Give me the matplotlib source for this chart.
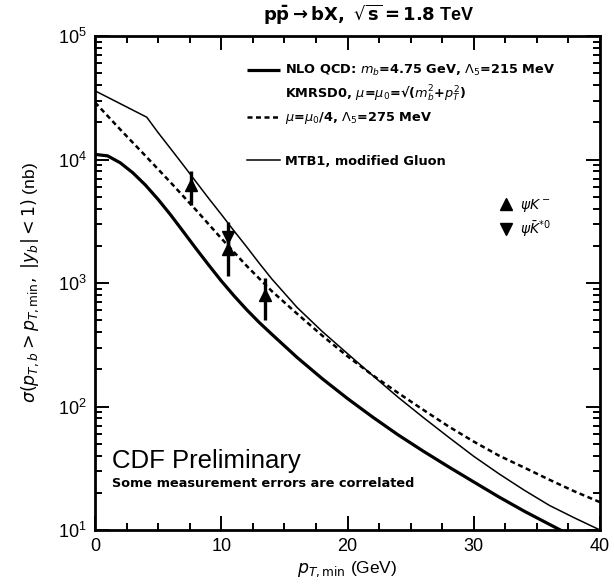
import matplotlib
matplotlib.use("Agg")
import matplotlib.pyplot as plt
from matplotlib.ticker import LogLocator, MultipleLocator, NullFormatter
import numpy as np

plt.rcParams['font.family'] = ['Liberation Sans', 'DejaVu Sans']
plt.rcParams['mathtext.fontset'] = 'dejavusans'

# NLO QCD central prediction (KMRSD0, mu = mu0)
pt_nlo = [0, 1, 2, 3, 4, 5, 6, 7, 8, 9, 10, 11, 12, 13, 14, 16, 18, 20, 22, 24, 26, 28, 30, 32, 34, 36, 38, 40]
xs_nlo = [1.1e4, 1.07e4, 9.4e3, 7.8e3, 6.2e3, 4.75e3, 3.55e3, 2.6e3, 1.9e3, 1.4e3, 1.04e3, 790, 610, 480,
          385, 250, 168, 116, 82, 59, 43.5, 32.5, 24.5, 18.5, 14.2, 11.1, 8.7, 6.9]

# mu = mu0/4, Lambda5 = 275 MeV
pt_low = [0, 2, 4, 6, 8, 10, 12, 14, 16, 18, 20, 22, 24, 26, 28, 30, 32, 34, 36, 38, 40]
xs_low = [2.9e4, 1.75e4, 1.07e4, 6.5e3, 3.9e3, 2.3e3, 1.38e3, 860, 565, 375, 255, 179, 129, 94, 69, 52,
          40, 32, 25.5, 20.5, 16.8]

# MTB1, modified gluon
pt_mtb = [0, 4.1, 5, 6, 7, 8, 9, 10, 11, 12, 13, 14, 16, 18, 20, 22, 24, 26, 28, 30, 32, 34, 36, 38, 40]
xs_mtb = [3.6e4, 2.2e4, 1.65e4, 1.22e4, 9.0e3, 6.6e3, 4.85e3, 3.6e3, 2.65e3, 1.97e3, 1.45e3, 1.08e3, 635,
          405, 268, 178, 119, 81.5, 56.5, 39.5, 28.5, 21, 15.8, 12.5, 10]

# CDF measurements
pt_km = [7.6, 10.5, 13.5]
xs_km = [6.2e3, 1.9e3, 800]
err_km_lo = [1.9e3, 0.75e3, 300]
err_km_hi = [1.9e3, 0.65e3, 300]

pt_kst = [10.5]
xs_kst = [2.35e3]
err_kst_lo = [0.65e3]
err_kst_hi = [0.75e3]

fig = plt.figure(figsize=(6.14, 5.85), dpi=100)
ax = fig.add_axes([95 / 614, 55 / 585, 505 / 614, 494 / 585])

l_nlo, = ax.plot(pt_nlo, xs_nlo, color='black', lw=2.3, solid_capstyle='butt')
l_low, = ax.plot(pt_low, xs_low, color='black', lw=1.8, linestyle=(0, (2.0, 1.4)))
l_mtb, = ax.plot(pt_mtb, xs_mtb, color='black', lw=1.1)

ax.errorbar(pt_km, xs_km, yerr=[err_km_lo, err_km_hi], fmt='none', ecolor='black', elinewidth=2.4, capsize=0)
ax.errorbar(pt_kst, xs_kst, yerr=[err_kst_lo, err_kst_hi], fmt='none', ecolor='black', elinewidth=2.4, capsize=0)
m_km, = ax.plot(pt_km, xs_km, linestyle='none', marker='^', color='black', markersize=9)
m_kst, = ax.plot(pt_kst, xs_kst, linestyle='none', marker='v', color='black', markersize=9)

ax.set_yscale('log')
ax.set_xlim(0, 40)
ax.set_ylim(10, 1e5)

ax.xaxis.set_major_locator(MultipleLocator(10))
ax.xaxis.set_minor_locator(MultipleLocator(2.5))
ax.yaxis.set_major_locator(LogLocator(base=10, numticks=10))
ax.yaxis.set_minor_locator(LogLocator(base=10, subs=np.arange(2, 10), numticks=20))
ax.yaxis.set_minor_formatter(NullFormatter())
ax.tick_params(which='both', direction='in', top=True, right=True, width=1.4, labelsize=13)
ax.tick_params(which='major', length=10, pad=6)
ax.tick_params(which='minor', length=5)
for s in ax.spines.values():
    s.set_linewidth(2)

ax.set_xlabel(r'$p_{T,\rm min}$ (GeV)', fontsize=12.5, labelpad=3)
ax.set_ylabel(r'$\sigma(p_{T,b}>p_{T,\rm min},\ |y_b|<1)$ (nb)', fontsize=12.5, labelpad=12)

fig.text(0.6, 0.975, r'$\mathbf{p\bar{p}\rightarrow bX,\ \sqrt{s}=1.8}$ TeV', fontsize=13,
         ha='center', va='center', fontweight='bold')

leg_font = {'family': 'DejaVu Sans', 'weight': 'bold', 'size': 9.3}

# model curves key
blank, = ax.plot([], [], color='none')
leg1 = ax.legend([l_nlo, blank, l_low],
                 [r'NLO QCD: $m_b$=4.75 GeV, $\Lambda_5$=215 MeV',
                  r'KMRSD0, $\mu$=$\mu_0$=√($m_b^2$+$p_T^2$)',
                  r'$\mu$=$\mu_0$/4, $\Lambda_5$=275 MeV'],
                 loc='upper left', bbox_to_anchor=(0.30, 0.945), frameon=False,
                 handlelength=2.6, handletextpad=0.4, labelspacing=0.45, borderpad=0,
                 borderaxespad=0, prop=leg_font)
ax.add_artist(leg1)
leg2 = ax.legend([l_mtb], ['MTB1, modified Gluon'],
                 loc='upper left', bbox_to_anchor=(0.30, 0.76), frameon=False,
                 handlelength=2.6, handletextpad=0.4, borderpad=0, borderaxespad=0,
                 prop=leg_font)
ax.add_artist(leg2)
ax.legend([m_km, m_kst], [r'$\psi K^-$', r'$\psi\bar{K}^{*0}$'],
          loc='upper left', bbox_to_anchor=(0.80, 0.675), frameon=False,
          handlelength=1.0, handletextpad=0.5, labelspacing=0.35, borderpad=0, borderaxespad=0,
          prop={'weight': 'bold', 'size': 10})

ax.text(0.034, 0.14, 'CDF Preliminary', transform=ax.transAxes, fontsize=18.5, ha='left', va='center')
ax.text(0.034, 0.095, 'Some measurement errors are correlated', transform=ax.transAxes,
        fontsize=9.3, fontweight='bold', family='DejaVu Sans', ha='left', va='center')

fig.savefig('out.png', dpi=100)
